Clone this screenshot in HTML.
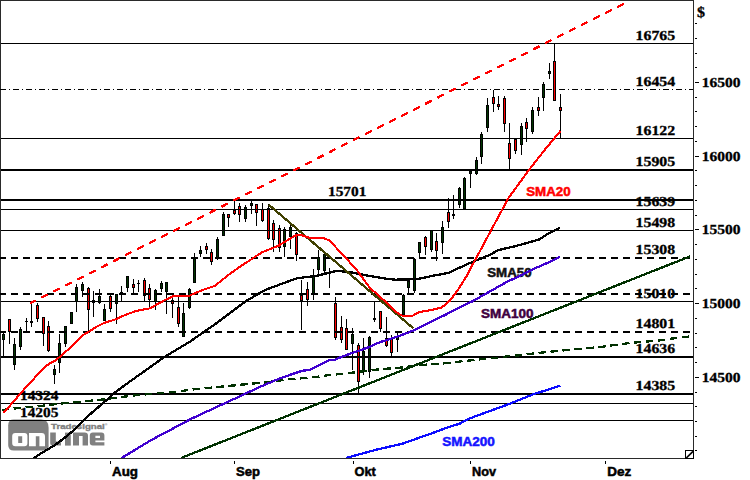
<!DOCTYPE html>
<html><head><meta charset="utf-8"><title>Chart</title>
<style>html,body{margin:0;padding:0;background:#fff;}body{width:750px;height:480px;overflow:hidden;font-family:"Liberation Sans",sans-serif;}</style></head>
<body>
<svg width="750" height="480" viewBox="0 0 750 480" style="display:block">
<rect width="750" height="480" fill="#fff"/>
<defs><clipPath id="cp"><rect x="1" y="1" width="692" height="457"/></clipPath></defs>
<g>
<path d="M13.6 419.6 H41 Q48.6 419.6 48.6 427.5 V450.6 H13.8 Q8.2 450.6 8.2 445 V425.2 Q8.2 419.6 13.6 419.6 Z" fill="#808080"/>
<path fill-rule="evenodd" fill="#fff" d="M15.4 433 H24.4 Q27.4 433 27.4 436 V443.2 Q27.4 446.2 24.4 446.2 H15.4 Q12.2 446.2 12.2 443.2 V436 Q12.2 433 15.4 433 Z M18.2 436.3 V443 H22.2 V436.3 Z"/>
<path fill="#fff" d="M29 433 H41.6 Q45 433 45 436.4 V446.2 H39.4 V436.3 H35.8 V446.2 H29 Z"/>
<path fill="#808080" d="M50.2 432.6 H55.8 V441.6 H61 V445.6 H53 Q50.2 445.6 50.2 443 Z"/>
<rect x="65" y="432.6" width="5.8" height="13" fill="#808080"/>
<path fill="#808080" d="M73 432.6 H84.8 Q88 432.6 88 435.8 V445.6 H82.6 V436 H79 V445.6 H73 Z"/>
<path fill-rule="evenodd" fill="#808080" d="M92.8 432.6 H101.4 Q104.4 432.6 104.4 435.6 V440.6 H95.4 V442.3 H104.4 V445.6 H92.8 Q89.8 445.6 89.8 442.6 V435.6 Q89.8 432.6 92.8 432.6 Z M95.4 435.7 V438 H100 V435.7 Z"/>
<text x="51" y="429.2" font-family="Liberation Sans, sans-serif" font-weight="bold" font-size="7.8" fill="#808080" stroke="#808080" stroke-width="0.35" textLength="53.8" lengthAdjust="spacingAndGlyphs">Tradesignal</text>
<text x="104.8" y="426.4" font-family="Liberation Sans, sans-serif" font-weight="bold" font-size="3.6" fill="#808080">®</text>
</g>
<text transform="translate(635.6,40) scale(1.2185,1.06)" font-family="Liberation Serif, serif" font-weight="bold" font-size="13.0" fill="#000" stroke="#000" stroke-width="0.3" text-rendering="geometricPrecision">16765</text>
<text transform="translate(635.6,86) scale(1.2185,1.06)" font-family="Liberation Serif, serif" font-weight="bold" font-size="13.0" fill="#000" stroke="#000" stroke-width="0.3" text-rendering="geometricPrecision">16454</text>
<text transform="translate(635.6,135) scale(1.2185,1.06)" font-family="Liberation Serif, serif" font-weight="bold" font-size="13.0" fill="#000" stroke="#000" stroke-width="0.3" text-rendering="geometricPrecision">16122</text>
<text transform="translate(635.6,166) scale(1.2185,1.06)" font-family="Liberation Serif, serif" font-weight="bold" font-size="13.0" fill="#000" stroke="#000" stroke-width="0.3" text-rendering="geometricPrecision">15905</text>
<text transform="translate(635.6,206) scale(1.2185,1.06)" font-family="Liberation Serif, serif" font-weight="bold" font-size="13.0" fill="#000" stroke="#000" stroke-width="0.3" text-rendering="geometricPrecision">15639</text>
<text transform="translate(635.6,227) scale(1.2185,1.06)" font-family="Liberation Serif, serif" font-weight="bold" font-size="13.0" fill="#000" stroke="#000" stroke-width="0.3" text-rendering="geometricPrecision">15498</text>
<text transform="translate(635.6,254) scale(1.2185,1.06)" font-family="Liberation Serif, serif" font-weight="bold" font-size="13.0" fill="#000" stroke="#000" stroke-width="0.3" text-rendering="geometricPrecision">15308</text>
<text transform="translate(635.6,298) scale(1.2185,1.06)" font-family="Liberation Serif, serif" font-weight="bold" font-size="13.0" fill="#000" stroke="#000" stroke-width="0.3" text-rendering="geometricPrecision">15010</text>
<text transform="translate(635.6,328) scale(1.2185,1.06)" font-family="Liberation Serif, serif" font-weight="bold" font-size="13.0" fill="#000" stroke="#000" stroke-width="0.3" text-rendering="geometricPrecision">14801</text>
<text transform="translate(635.6,353) scale(1.2185,1.06)" font-family="Liberation Serif, serif" font-weight="bold" font-size="13.0" fill="#000" stroke="#000" stroke-width="0.3" text-rendering="geometricPrecision">14636</text>
<text transform="translate(635.6,390) scale(1.2185,1.06)" font-family="Liberation Serif, serif" font-weight="bold" font-size="13.0" fill="#000" stroke="#000" stroke-width="0.3" text-rendering="geometricPrecision">14385</text>
<text transform="translate(328,196) scale(1.1815,1.06)" font-family="Liberation Serif, serif" font-weight="bold" font-size="13.0" fill="#000" stroke="#000" stroke-width="0.3" text-rendering="geometricPrecision">15701</text>
<text transform="translate(20,400) scale(1.1815,1.06)" font-family="Liberation Serif, serif" font-weight="bold" font-size="13.0" fill="#000" stroke="#000" stroke-width="0.3" text-rendering="geometricPrecision">14324</text>
<text transform="translate(20,417) scale(1.1815,1.06)" font-family="Liberation Serif, serif" font-weight="bold" font-size="13.0" fill="#000" stroke="#000" stroke-width="0.3" text-rendering="geometricPrecision">14205</text>
<text transform="translate(701.8,87) scale(1.1938,1.06)" font-family="Liberation Serif, serif" font-weight="bold" font-size="13.0" fill="#000" stroke="#000" stroke-width="0.3" text-rendering="geometricPrecision">16500</text>
<text transform="translate(701.8,161) scale(1.1938,1.06)" font-family="Liberation Serif, serif" font-weight="bold" font-size="13.0" fill="#000" stroke="#000" stroke-width="0.3" text-rendering="geometricPrecision">16000</text>
<text transform="translate(701.8,234) scale(1.1938,1.06)" font-family="Liberation Serif, serif" font-weight="bold" font-size="13.0" fill="#000" stroke="#000" stroke-width="0.3" text-rendering="geometricPrecision">15500</text>
<text transform="translate(701.8,308) scale(1.1938,1.06)" font-family="Liberation Serif, serif" font-weight="bold" font-size="13.0" fill="#000" stroke="#000" stroke-width="0.3" text-rendering="geometricPrecision">15000</text>
<text transform="translate(701.8,382) scale(1.1938,1.06)" font-family="Liberation Serif, serif" font-weight="bold" font-size="13.0" fill="#000" stroke="#000" stroke-width="0.3" text-rendering="geometricPrecision">14500</text>
<text transform="translate(696.9,17) scale(1.1429,1.06)" font-family="Liberation Serif, serif" font-weight="bold" font-size="14" fill="#000" stroke="#000" stroke-width="0.3" text-rendering="geometricPrecision">$</text>
<text x="526.2" y="196" font-family="Liberation Sans, sans-serif" font-weight="bold" font-size="12.4" fill="#ff0000" stroke="#ff0000" stroke-width="0.5" textLength="44.4" lengthAdjust="spacingAndGlyphs">SMA20</text>
<text x="487.2" y="277" font-family="Liberation Sans, sans-serif" font-weight="bold" font-size="12.4" fill="#111" stroke="#111" stroke-width="0.5" textLength="44.4" lengthAdjust="spacingAndGlyphs">SMA50</text>
<text x="481" y="318" font-family="Liberation Sans, sans-serif" font-weight="bold" font-size="12.4" fill="#400040" stroke="#400040" stroke-width="0.5" textLength="52.5" lengthAdjust="spacingAndGlyphs">SMA100</text>
<text x="442.2" y="446" font-family="Liberation Sans, sans-serif" font-weight="bold" font-size="12.4" fill="#1414ff" stroke="#1414ff" stroke-width="0.5" textLength="52.6" lengthAdjust="spacingAndGlyphs">SMA200</text>
<text x="112" y="476" font-family="Liberation Sans, sans-serif" font-weight="bold" font-size="12.4" fill="#000" stroke="#000" stroke-width="0.5" textLength="26" lengthAdjust="spacingAndGlyphs">Aug</text>
<text x="236" y="476" font-family="Liberation Sans, sans-serif" font-weight="bold" font-size="12.4" fill="#000" stroke="#000" stroke-width="0.5" textLength="24" lengthAdjust="spacingAndGlyphs">Sep</text>
<text x="354.5" y="476" font-family="Liberation Sans, sans-serif" font-weight="bold" font-size="12.4" fill="#000" stroke="#000" stroke-width="0.5" textLength="21.3" lengthAdjust="spacingAndGlyphs">Okt</text>
<text x="472" y="476" font-family="Liberation Sans, sans-serif" font-weight="bold" font-size="12.4" fill="#000" stroke="#000" stroke-width="0.5" textLength="24" lengthAdjust="spacingAndGlyphs">Nov</text>
<text x="607.2" y="476" font-family="Liberation Sans, sans-serif" font-weight="bold" font-size="12.4" fill="#000" stroke="#000" stroke-width="0.5" textLength="24" lengthAdjust="spacingAndGlyphs">Dez</text>
<g shape-rendering="crispEdges">
<rect x="3" y="332" width="1" height="24" fill="#000"/>
<rect x="2" y="334" width="3" height="6" fill="#000"/>
<rect x="3" y="335" width="1" height="4" fill="#003400"/>
<rect x="9" y="319" width="1" height="25" fill="#000"/>
<rect x="8" y="319" width="3" height="13" fill="#000"/>
<rect x="9" y="320" width="1" height="11" fill="#f00"/>
<rect x="14" y="338" width="1" height="32" fill="#000"/>
<rect x="13" y="344" width="3" height="21" fill="#000"/>
<rect x="14" y="345" width="1" height="19" fill="#003400"/>
<rect x="20" y="327" width="1" height="23" fill="#000"/>
<rect x="19" y="329" width="3" height="18" fill="#000"/>
<rect x="20" y="330" width="1" height="16" fill="#003400"/>
<rect x="26" y="318" width="1" height="14" fill="#000"/>
<rect x="25" y="321" width="3" height="1" fill="#000"/>
<rect x="31" y="302" width="1" height="25" fill="#000"/>
<rect x="30" y="321" width="3" height="2" fill="#000"/>
<rect x="37" y="303" width="1" height="19" fill="#000"/>
<rect x="36" y="305" width="3" height="14" fill="#000"/>
<rect x="37" y="306" width="1" height="12" fill="#f00"/>
<rect x="43" y="317" width="1" height="29" fill="#000"/>
<rect x="42" y="317" width="3" height="17" fill="#000"/>
<rect x="43" y="318" width="1" height="15" fill="#f00"/>
<rect x="48" y="321" width="1" height="31" fill="#000"/>
<rect x="47" y="326" width="3" height="25" fill="#000"/>
<rect x="48" y="327" width="1" height="23" fill="#f00"/>
<rect x="54" y="365" width="1" height="19" fill="#000"/>
<rect x="53" y="369" width="3" height="6" fill="#000"/>
<rect x="54" y="370" width="1" height="4" fill="#003400"/>
<rect x="59" y="334" width="1" height="39" fill="#000"/>
<rect x="58" y="343" width="3" height="20" fill="#000"/>
<rect x="59" y="344" width="1" height="18" fill="#003400"/>
<rect x="65" y="326" width="1" height="21" fill="#000"/>
<rect x="64" y="326" width="3" height="18" fill="#000"/>
<rect x="65" y="327" width="1" height="16" fill="#003400"/>
<rect x="71" y="312" width="1" height="12" fill="#000"/>
<rect x="70" y="312" width="3" height="12" fill="#000"/>
<rect x="71" y="313" width="1" height="10" fill="#003400"/>
<rect x="76" y="284" width="1" height="28" fill="#000"/>
<rect x="75" y="287" width="3" height="15" fill="#000"/>
<rect x="76" y="288" width="1" height="13" fill="#003400"/>
<rect x="82" y="282" width="1" height="15" fill="#000"/>
<rect x="81" y="284" width="3" height="7" fill="#000"/>
<rect x="82" y="285" width="1" height="5" fill="#003400"/>
<rect x="88" y="287" width="1" height="45" fill="#000"/>
<rect x="87" y="288" width="3" height="22" fill="#000"/>
<rect x="88" y="289" width="1" height="20" fill="#f00"/>
<rect x="93" y="291" width="1" height="26" fill="#000"/>
<rect x="92" y="300" width="3" height="3" fill="#000"/>
<rect x="93" y="301" width="1" height="1" fill="#003400"/>
<rect x="99" y="289" width="1" height="15" fill="#000"/>
<rect x="98" y="296" width="3" height="7" fill="#000"/>
<rect x="99" y="297" width="1" height="5" fill="#003400"/>
<rect x="104" y="304" width="1" height="17" fill="#000"/>
<rect x="103" y="309" width="3" height="12" fill="#000"/>
<rect x="104" y="310" width="1" height="10" fill="#003400"/>
<rect x="110" y="295" width="1" height="17" fill="#000"/>
<rect x="109" y="296" width="3" height="13" fill="#000"/>
<rect x="110" y="297" width="1" height="11" fill="#f00"/>
<rect x="116" y="294" width="1" height="30" fill="#000"/>
<rect x="115" y="294" width="3" height="10" fill="#000"/>
<rect x="116" y="295" width="1" height="8" fill="#003400"/>
<rect x="121" y="286" width="1" height="15" fill="#000"/>
<rect x="120" y="292" width="3" height="3" fill="#000"/>
<rect x="121" y="293" width="1" height="1" fill="#003400"/>
<rect x="127" y="276" width="1" height="16" fill="#000"/>
<rect x="126" y="276" width="3" height="12" fill="#000"/>
<rect x="127" y="277" width="1" height="10" fill="#003400"/>
<rect x="133" y="279" width="1" height="14" fill="#000"/>
<rect x="132" y="284" width="3" height="4" fill="#000"/>
<rect x="133" y="285" width="1" height="2" fill="#f00"/>
<rect x="138" y="280" width="1" height="12" fill="#000"/>
<rect x="137" y="283" width="3" height="1" fill="#000"/>
<rect x="144" y="278" width="1" height="23" fill="#000"/>
<rect x="143" y="280" width="3" height="16" fill="#000"/>
<rect x="144" y="281" width="1" height="14" fill="#f00"/>
<rect x="149" y="284" width="1" height="23" fill="#000"/>
<rect x="148" y="288" width="3" height="12" fill="#000"/>
<rect x="149" y="289" width="1" height="10" fill="#f00"/>
<rect x="155" y="289" width="1" height="21" fill="#000"/>
<rect x="154" y="290" width="3" height="12" fill="#000"/>
<rect x="155" y="291" width="1" height="10" fill="#003400"/>
<rect x="161" y="281" width="1" height="11" fill="#000"/>
<rect x="160" y="283" width="3" height="6" fill="#000"/>
<rect x="161" y="284" width="1" height="4" fill="#003400"/>
<rect x="166" y="282" width="1" height="32" fill="#000"/>
<rect x="165" y="282" width="3" height="10" fill="#000"/>
<rect x="166" y="283" width="1" height="8" fill="#003400"/>
<rect x="172" y="297" width="1" height="21" fill="#000"/>
<rect x="171" y="300" width="3" height="4" fill="#000"/>
<rect x="172" y="301" width="1" height="2" fill="#f00"/>
<rect x="178" y="297" width="1" height="30" fill="#000"/>
<rect x="177" y="307" width="3" height="17" fill="#000"/>
<rect x="178" y="308" width="1" height="15" fill="#f00"/>
<rect x="183" y="303" width="1" height="34" fill="#000"/>
<rect x="182" y="313" width="3" height="24" fill="#000"/>
<rect x="183" y="314" width="1" height="22" fill="#003400"/>
<rect x="189" y="288" width="1" height="21" fill="#000"/>
<rect x="188" y="289" width="3" height="19" fill="#000"/>
<rect x="189" y="290" width="1" height="17" fill="#003400"/>
<rect x="194" y="253" width="1" height="30" fill="#000"/>
<rect x="193" y="257" width="3" height="26" fill="#000"/>
<rect x="194" y="258" width="1" height="24" fill="#003400"/>
<rect x="200" y="246" width="1" height="11" fill="#000"/>
<rect x="199" y="250" width="3" height="4" fill="#000"/>
<rect x="200" y="251" width="1" height="2" fill="#003400"/>
<rect x="206" y="243" width="1" height="11" fill="#000"/>
<rect x="205" y="246" width="3" height="4" fill="#000"/>
<rect x="206" y="247" width="1" height="2" fill="#f00"/>
<rect x="211" y="249" width="1" height="16" fill="#000"/>
<rect x="210" y="252" width="3" height="10" fill="#000"/>
<rect x="211" y="253" width="1" height="8" fill="#f00"/>
<rect x="217" y="237" width="1" height="23" fill="#000"/>
<rect x="216" y="239" width="3" height="19" fill="#000"/>
<rect x="217" y="240" width="1" height="17" fill="#003400"/>
<rect x="223" y="212" width="1" height="24" fill="#000"/>
<rect x="222" y="214" width="3" height="22" fill="#000"/>
<rect x="223" y="215" width="1" height="20" fill="#003400"/>
<rect x="228" y="214" width="1" height="13" fill="#000"/>
<rect x="227" y="214" width="3" height="4" fill="#000"/>
<rect x="228" y="215" width="1" height="2" fill="#f00"/>
<rect x="234" y="201" width="1" height="14" fill="#000"/>
<rect x="233" y="210" width="3" height="4" fill="#000"/>
<rect x="234" y="211" width="1" height="2" fill="#f00"/>
<rect x="239" y="203" width="1" height="19" fill="#000"/>
<rect x="238" y="206" width="3" height="9" fill="#000"/>
<rect x="239" y="207" width="1" height="7" fill="#f00"/>
<rect x="245" y="205" width="1" height="17" fill="#000"/>
<rect x="244" y="207" width="3" height="12" fill="#000"/>
<rect x="245" y="208" width="1" height="10" fill="#003400"/>
<rect x="251" y="201" width="1" height="13" fill="#000"/>
<rect x="250" y="203" width="3" height="3" fill="#000"/>
<rect x="251" y="204" width="1" height="1" fill="#003400"/>
<rect x="256" y="204" width="1" height="22" fill="#000"/>
<rect x="255" y="204" width="3" height="9" fill="#000"/>
<rect x="256" y="205" width="1" height="7" fill="#f00"/>
<rect x="262" y="203" width="1" height="19" fill="#000"/>
<rect x="261" y="209" width="3" height="12" fill="#000"/>
<rect x="262" y="210" width="1" height="10" fill="#f00"/>
<rect x="268" y="204" width="1" height="36" fill="#000"/>
<rect x="267" y="208" width="3" height="31" fill="#000"/>
<rect x="268" y="209" width="1" height="29" fill="#f00"/>
<rect x="273" y="220" width="1" height="32" fill="#000"/>
<rect x="272" y="223" width="3" height="17" fill="#000"/>
<rect x="273" y="224" width="1" height="15" fill="#f00"/>
<rect x="279" y="225" width="1" height="27" fill="#000"/>
<rect x="278" y="228" width="3" height="20" fill="#000"/>
<rect x="279" y="229" width="1" height="18" fill="#f00"/>
<rect x="284" y="227" width="1" height="30" fill="#000"/>
<rect x="283" y="229" width="3" height="18" fill="#000"/>
<rect x="284" y="230" width="1" height="16" fill="#003400"/>
<rect x="290" y="225" width="1" height="24" fill="#000"/>
<rect x="289" y="227" width="3" height="10" fill="#000"/>
<rect x="290" y="228" width="1" height="8" fill="#003400"/>
<rect x="296" y="232" width="1" height="29" fill="#000"/>
<rect x="295" y="233" width="3" height="22" fill="#000"/>
<rect x="296" y="234" width="1" height="20" fill="#f00"/>
<rect x="301" y="280" width="1" height="50" fill="#000"/>
<rect x="300" y="295" width="3" height="6" fill="#000"/>
<rect x="301" y="296" width="1" height="4" fill="#f00"/>
<rect x="307" y="282" width="1" height="24" fill="#000"/>
<rect x="306" y="289" width="3" height="11" fill="#000"/>
<rect x="307" y="290" width="1" height="9" fill="#f00"/>
<rect x="313" y="269" width="1" height="31" fill="#000"/>
<rect x="312" y="276" width="3" height="19" fill="#000"/>
<rect x="313" y="277" width="1" height="17" fill="#003400"/>
<rect x="318" y="250" width="1" height="25" fill="#000"/>
<rect x="317" y="257" width="3" height="13" fill="#000"/>
<rect x="318" y="258" width="1" height="11" fill="#003400"/>
<rect x="324" y="254" width="1" height="20" fill="#000"/>
<rect x="323" y="254" width="3" height="17" fill="#000"/>
<rect x="324" y="255" width="1" height="15" fill="#003400"/>
<rect x="329" y="268" width="1" height="20" fill="#000"/>
<rect x="335" y="297" width="1" height="43" fill="#000"/>
<rect x="334" y="303" width="3" height="35" fill="#000"/>
<rect x="335" y="304" width="1" height="33" fill="#f00"/>
<rect x="341" y="316" width="1" height="27" fill="#000"/>
<rect x="340" y="327" width="3" height="13" fill="#000"/>
<rect x="341" y="328" width="1" height="11" fill="#f00"/>
<rect x="346" y="319" width="1" height="31" fill="#000"/>
<rect x="345" y="328" width="3" height="22" fill="#000"/>
<rect x="346" y="329" width="1" height="20" fill="#f00"/>
<rect x="352" y="328" width="1" height="42" fill="#000"/>
<rect x="351" y="334" width="3" height="10" fill="#000"/>
<rect x="352" y="335" width="1" height="8" fill="#003400"/>
<rect x="358" y="343" width="1" height="50" fill="#000"/>
<rect x="357" y="345" width="3" height="37" fill="#000"/>
<rect x="358" y="346" width="1" height="35" fill="#f00"/>
<rect x="363" y="338" width="1" height="37" fill="#000"/>
<rect x="362" y="351" width="3" height="21" fill="#000"/>
<rect x="363" y="352" width="1" height="19" fill="#003400"/>
<rect x="369" y="336" width="1" height="42" fill="#000"/>
<rect x="368" y="337" width="3" height="35" fill="#000"/>
<rect x="369" y="338" width="1" height="33" fill="#003400"/>
<rect x="374" y="302" width="1" height="20" fill="#000"/>
<rect x="373" y="318" width="3" height="2" fill="#000"/>
<rect x="380" y="311" width="1" height="21" fill="#000"/>
<rect x="379" y="311" width="3" height="18" fill="#000"/>
<rect x="380" y="312" width="1" height="16" fill="#f00"/>
<rect x="386" y="317" width="1" height="30" fill="#000"/>
<rect x="385" y="338" width="3" height="8" fill="#000"/>
<rect x="386" y="339" width="1" height="6" fill="#f00"/>
<rect x="391" y="335" width="1" height="21" fill="#000"/>
<rect x="390" y="339" width="3" height="14" fill="#000"/>
<rect x="391" y="340" width="1" height="12" fill="#f00"/>
<rect x="397" y="332" width="1" height="20" fill="#000"/>
<rect x="396" y="337" width="3" height="3" fill="#000"/>
<rect x="397" y="338" width="1" height="1" fill="#003400"/>
<rect x="403" y="294" width="1" height="21" fill="#000"/>
<rect x="402" y="295" width="3" height="20" fill="#000"/>
<rect x="403" y="296" width="1" height="18" fill="#003400"/>
<rect x="408" y="281" width="1" height="12" fill="#000"/>
<rect x="407" y="281" width="3" height="7" fill="#000"/>
<rect x="408" y="282" width="1" height="5" fill="#003400"/>
<rect x="414" y="258" width="1" height="35" fill="#000"/>
<rect x="413" y="259" width="3" height="32" fill="#000"/>
<rect x="414" y="260" width="1" height="30" fill="#003400"/>
<rect x="419" y="242" width="1" height="16" fill="#000"/>
<rect x="418" y="242" width="3" height="11" fill="#000"/>
<rect x="419" y="243" width="1" height="9" fill="#003400"/>
<rect x="425" y="236" width="1" height="19" fill="#000"/>
<rect x="424" y="237" width="3" height="10" fill="#000"/>
<rect x="425" y="238" width="1" height="8" fill="#f00"/>
<rect x="431" y="230" width="1" height="22" fill="#000"/>
<rect x="430" y="230" width="3" height="20" fill="#000"/>
<rect x="431" y="231" width="1" height="18" fill="#003400"/>
<rect x="436" y="233" width="1" height="28" fill="#000"/>
<rect x="435" y="241" width="3" height="10" fill="#000"/>
<rect x="436" y="242" width="1" height="8" fill="#f00"/>
<rect x="442" y="221" width="1" height="33" fill="#000"/>
<rect x="441" y="227" width="3" height="16" fill="#000"/>
<rect x="442" y="228" width="1" height="14" fill="#003400"/>
<rect x="448" y="198" width="1" height="30" fill="#000"/>
<rect x="447" y="212" width="3" height="10" fill="#000"/>
<rect x="448" y="213" width="1" height="8" fill="#f00"/>
<rect x="453" y="195" width="1" height="24" fill="#000"/>
<rect x="452" y="214" width="3" height="2" fill="#000"/>
<rect x="459" y="187" width="1" height="21" fill="#000"/>
<rect x="458" y="188" width="3" height="17" fill="#000"/>
<rect x="459" y="189" width="1" height="15" fill="#003400"/>
<rect x="464" y="177" width="1" height="32" fill="#000"/>
<rect x="463" y="178" width="3" height="31" fill="#000"/>
<rect x="464" y="179" width="1" height="29" fill="#003400"/>
<rect x="470" y="171" width="1" height="17" fill="#000"/>
<rect x="469" y="171" width="3" height="3" fill="#000"/>
<rect x="470" y="172" width="1" height="1" fill="#003400"/>
<rect x="476" y="157" width="1" height="18" fill="#000"/>
<rect x="475" y="160" width="3" height="14" fill="#000"/>
<rect x="476" y="161" width="1" height="12" fill="#003400"/>
<rect x="481" y="132" width="1" height="32" fill="#000"/>
<rect x="480" y="134" width="3" height="23" fill="#000"/>
<rect x="481" y="135" width="1" height="21" fill="#003400"/>
<rect x="487" y="98" width="1" height="34" fill="#000"/>
<rect x="486" y="105" width="3" height="23" fill="#000"/>
<rect x="487" y="106" width="1" height="21" fill="#003400"/>
<rect x="493" y="90" width="1" height="22" fill="#000"/>
<rect x="492" y="97" width="3" height="7" fill="#000"/>
<rect x="493" y="98" width="1" height="5" fill="#f00"/>
<rect x="498" y="96" width="1" height="14" fill="#000"/>
<rect x="497" y="104" width="3" height="3" fill="#000"/>
<rect x="498" y="105" width="1" height="1" fill="#f00"/>
<rect x="504" y="96" width="1" height="36" fill="#000"/>
<rect x="503" y="98" width="3" height="26" fill="#000"/>
<rect x="504" y="99" width="1" height="24" fill="#f00"/>
<rect x="509" y="123" width="1" height="46" fill="#000"/>
<rect x="508" y="143" width="3" height="16" fill="#000"/>
<rect x="509" y="144" width="1" height="14" fill="#f00"/>
<rect x="515" y="138" width="1" height="16" fill="#000"/>
<rect x="514" y="139" width="3" height="12" fill="#000"/>
<rect x="515" y="140" width="1" height="10" fill="#f00"/>
<rect x="521" y="123" width="1" height="32" fill="#000"/>
<rect x="520" y="126" width="3" height="19" fill="#000"/>
<rect x="521" y="127" width="1" height="17" fill="#003400"/>
<rect x="526" y="118" width="1" height="24" fill="#000"/>
<rect x="525" y="122" width="3" height="7" fill="#000"/>
<rect x="526" y="123" width="1" height="5" fill="#f00"/>
<rect x="532" y="107" width="1" height="27" fill="#000"/>
<rect x="531" y="110" width="3" height="22" fill="#000"/>
<rect x="532" y="111" width="1" height="20" fill="#003400"/>
<rect x="538" y="97" width="1" height="19" fill="#000"/>
<rect x="537" y="107" width="3" height="4" fill="#000"/>
<rect x="538" y="108" width="1" height="2" fill="#f00"/>
<rect x="543" y="82" width="1" height="29" fill="#000"/>
<rect x="542" y="84" width="3" height="14" fill="#000"/>
<rect x="543" y="85" width="1" height="12" fill="#003400"/>
<rect x="549" y="63" width="1" height="16" fill="#000"/>
<rect x="548" y="71" width="3" height="3" fill="#000"/>
<rect x="549" y="72" width="1" height="1" fill="#003400"/>
<rect x="554" y="43" width="1" height="58" fill="#000"/>
<rect x="553" y="61" width="3" height="40" fill="#000"/>
<rect x="554" y="62" width="1" height="38" fill="#f00"/>
<rect x="560" y="94" width="1" height="44" fill="#000"/>
<rect x="559" y="107" width="3" height="4" fill="#000"/>
<rect x="560" y="108" width="1" height="2" fill="#f00"/>
</g>
<g shape-rendering="crispEdges" fill="#000">
<rect x="0" y="0" width="694" height="1" fill="#2a2a2a"/>
<rect x="0" y="0" width="1" height="459" fill="#2a2a2a"/>
<rect x="693" y="0" width="1" height="459" fill="#2a2a2a"/>
<rect x="0" y="458" width="694" height="1" fill="#2a2a2a"/>
<rect x="1" y="43" width="692" height="1"/>
<rect x="1" y="138" width="692" height="1"/>
<rect x="1" y="209" width="692" height="1"/>
<rect x="1" y="230" width="692" height="1"/>
<rect x="1" y="301" width="692" height="1"/>
<rect x="1" y="403" width="692" height="1"/>
<rect x="1" y="420" width="692" height="1"/>
<rect x="1" y="169" width="692" height="2"/>
<rect x="1" y="199" width="692" height="2"/>
<rect x="1" y="356" width="692" height="2"/>
<rect x="1" y="393" width="692" height="2"/>
</g>
<g shape-rendering="crispEdges" stroke="#000" fill="none">
<line x1="0" y1="258" x2="693" y2="258" stroke-width="2" stroke-dasharray="7 5" stroke-dashoffset="1"/>
<line x1="0" y1="294" x2="693" y2="294" stroke-width="2" stroke-dasharray="7 5" stroke-dashoffset="1"/>
<line x1="0" y1="332" x2="693" y2="332" stroke-width="2" stroke-dasharray="7 5" stroke-dashoffset="1"/>
<line x1="0" y1="89.5" x2="693" y2="89.5" stroke-width="1" stroke-dasharray="6 3 1 3"/>
</g>
<g shape-rendering="crispEdges" fill="#000">
<rect x="695" y="23" width="2" height="1"/>
<rect x="695" y="38" width="2" height="1"/>
<rect x="695" y="53" width="2" height="1"/>
<rect x="695" y="67" width="2" height="1"/>
<rect x="695" y="82" width="4" height="1"/>
<rect x="695" y="97" width="2" height="1"/>
<rect x="695" y="111" width="2" height="1"/>
<rect x="695" y="126" width="2" height="1"/>
<rect x="695" y="141" width="2" height="1"/>
<rect x="695" y="156" width="4" height="1"/>
<rect x="695" y="170" width="2" height="1"/>
<rect x="695" y="185" width="2" height="1"/>
<rect x="695" y="200" width="2" height="1"/>
<rect x="695" y="215" width="2" height="1"/>
<rect x="695" y="229" width="4" height="1"/>
<rect x="695" y="244" width="2" height="1"/>
<rect x="695" y="259" width="2" height="1"/>
<rect x="695" y="274" width="2" height="1"/>
<rect x="695" y="288" width="2" height="1"/>
<rect x="695" y="303" width="4" height="1"/>
<rect x="695" y="318" width="2" height="1"/>
<rect x="695" y="333" width="2" height="1"/>
<rect x="695" y="347" width="2" height="1"/>
<rect x="695" y="362" width="2" height="1"/>
<rect x="695" y="377" width="4" height="1"/>
<rect x="695" y="392" width="2" height="1"/>
<rect x="695" y="406" width="2" height="1"/>
<rect x="695" y="421" width="2" height="1"/>
<rect x="695" y="436" width="2" height="1"/>
<rect x="695" y="450" width="2" height="1"/>
<rect x="110" y="461" width="1" height="3"/>
<rect x="234" y="461" width="1" height="3"/>
<rect x="353" y="461" width="1" height="3"/>
<rect x="470" y="461" width="1" height="3"/>
<rect x="605" y="461" width="1" height="3"/>
</g>
<g clip-path="url(#cp)" fill="none" stroke-linejoin="round" stroke-linecap="butt" shape-rendering="crispEdges">
<line x1="181" y1="458" x2="690" y2="256.4" stroke="#003000" stroke-width="2.3"/>
<polyline points="1.7,410.0 16.7,408.3 41.7,405.8 61.7,403.5 100.0,399.8 125.0,396.6 135.0,395.3 159.0,393.2 170.0,392.4 182.5,390.9 194.0,389.3 212.0,387.6 232.0,385.6 268.3,382.0 290.0,379.1 303.0,378.2 315.0,377.1 327.0,375.4 340.0,374.0 353.3,372.5 373.3,370.0 382.5,369.0 401.7,367.5 420.0,365.0 437.0,364.0 450.0,362.8 461.7,361.3 474.0,360.0 486.0,358.7 496.7,357.8 510.0,356.0 521.7,355.2 532.4,353.6 570.0,349.7 600.0,347.0 630.0,343.0 660.0,340.4 676.0,338.0 690.0,336.4" stroke="#003000" stroke-width="2.3" stroke-dasharray="7.5 4.5"/>
<polyline points="345.9,458.0 374.7,450.1 402.4,443.7 436.5,431.6 443.5,428.9 460.0,423.5 468.9,418.7 507.0,404.8 532.4,394.6 560.3,385.7" stroke="#0c0cff" stroke-width="2.3"/>
<polyline points="121.6,458.0 150.8,440.3 191.4,418.7 227.0,402.2 240.0,396.3 256.7,388.3 280.0,378.3 301.7,370.9 310.0,369.8 320.0,364.8 329.0,360.3 335.0,359.8 340.0,357.5 350.0,353.8 360.0,350.3 370.0,346.8 373.5,344.8 380.0,342.2 390.0,339.0 396.7,336.7 401.7,335.0 413.3,330.5 429.0,322.8 445.0,315.0 460.0,307.3 472.0,301.5 485.0,294.2 495.0,288.6 506.9,281.9 520.0,275.8 535.0,268.1 540.0,266.3 560.0,257.0" stroke="#4000d0" stroke-width="2.3"/>
<polyline points="33.5,458.3 42.5,452.5 55.0,445.0 65.0,437.5 72.5,431.2 80.0,423.8 86.3,417.5 95.0,410.0 103.8,402.5 115.0,392.5 125.0,385.0 163.5,357.6 180.0,347.6 190.0,341.6 215.0,324.2 245.0,301.7 265.0,290.0 285.0,282.6 296.7,278.4 318.3,275.5 336.7,270.8 351.7,272.5 368.3,275.8 388.3,279.0 395.0,279.7 416.7,279.2 436.7,275.0 448.3,273.0 461.7,266.7 475.0,260.8 480.0,259.0 489.3,255.0 498.7,250.0 514.7,246.3 526.7,243.0 538.7,239.7 549.3,233.0 560.0,228.0" stroke="#000" stroke-width="2.3"/>
<line x1="268.7" y1="204.7" x2="413.5" y2="328.5" stroke="#404000" stroke-width="2.3"/>
<polyline points="3.3,413.3 13.3,401.8 23.3,390.2 33.3,379.3 45.0,366.7 51.0,362.6 55.0,361.0 66.7,350.8 83.3,335.0 96.7,326.7 103.3,323.3 115.0,319.5 125.0,315.0 136.7,310.8 150.0,308.3 165.0,300.0 173.3,296.2 188.3,296.2 201.7,290.3 215.0,285.8 228.3,275.0 240.0,266.7 261.7,252.5 278.3,245.8 285.0,241.7 296.7,234.7 300.8,235.0 310.0,238.0 324.0,238.3 329.0,240.3 343.3,255.0 356.7,270.0 370.0,288.0 380.0,296.7 390.0,306.0 398.0,313.4 403.0,316.0 412.0,316.1 418.0,312.6 425.0,311.0 430.0,310.3 441.7,307.5 450.0,300.6 458.3,289.3 466.7,276.0 473.3,263.3 480.0,251.0 490.7,231.0 499.3,215.0 508.3,198.3 528.3,170.8 546.0,148.3 560.6,130.8" stroke="#ff0000" stroke-width="2.1"/>
<line x1="30.2" y1="303.3" x2="623.8" y2="3.7" stroke="#ff0000" stroke-width="2.3" stroke-dasharray="7.3 6.14" stroke-dashoffset="1.06"/>
</g>
<g shape-rendering="crispEdges"><rect x="685.5" y="450.5" width="8" height="8" fill="#fff" stroke="#000" stroke-width="1"/></g>
<path d="M686.3 458 L693 451.3" stroke="#000" stroke-width="1.7" fill="none"/>
</svg>
</body></html>
